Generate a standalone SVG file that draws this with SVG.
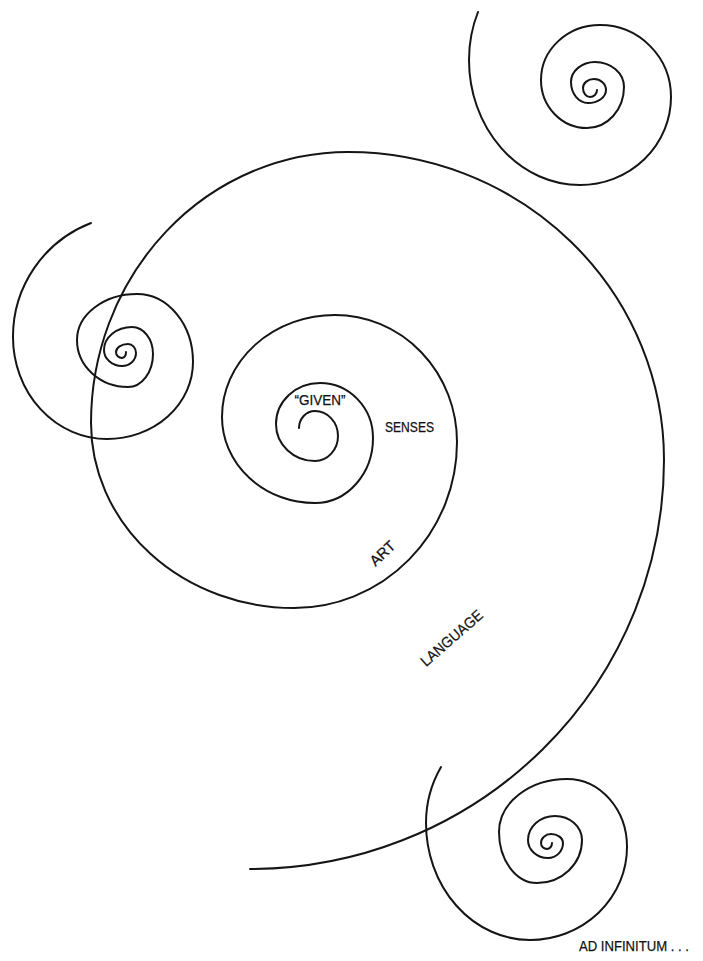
<svg xmlns="http://www.w3.org/2000/svg" width="703" height="961" viewBox="0 0 703 961">
<style>
.sp{fill:none;stroke:#151515;stroke-width:2;stroke-linecap:round;stroke-linejoin:round}
.lb{font-family:"Liberation Sans",Arial,sans-serif;font-size:15px;fill:#111111;stroke:#111111;stroke-width:0.25}
</style>
<rect width="703" height="961" fill="#ffffff"/>
<g id="main-spiral">
<path class="sp" d="M299,428 A16,17 0 0 1 315,411 A23,25 0 0 1 338,436 A23,25 0 0 1 315,461 A39,37 0 0 1 276,424 A44,41 0 0 1 320,383 A53,55 0 0 1 373,438 A58,65 0 0 1 315,503 A93,86 0 0 1 222,417 A113,102 0 0 1 335,315 A122,127 0 0 1 457,442 A163,166 0 0 1 294,608 A203,185 0 0 1 91,423 A257,271 0 0 1 348,152 A316,308 0 0 1 664,460 A414,409 0 0 1 250,869"/>
<text class="lb" x="320" y="405" text-anchor="middle" textLength="51" lengthAdjust="spacingAndGlyphs">“GIVEN”</text>
<text class="lb" x="385" y="432" textLength="49" lengthAdjust="spacingAndGlyphs">SENSES</text>
<text class="lb" x="386" y="557" text-anchor="middle" transform="rotate(-43 386 557)" textLength="29" lengthAdjust="spacingAndGlyphs">ART</text>
<text class="lb" x="455" y="642" text-anchor="middle" transform="rotate(-41 455 642)" textLength="77" lengthAdjust="spacingAndGlyphs">LANGUAGE</text>
</g>
<g id="left-spiral">
<path class="sp" d="M91,223 A122,122 0 0 0 13,337 A94,102 0 0 0 107,439 A86,77 0 0 0 193,362 A56,68 0 0 0 137,294 A60,46 0 0 0 77,340 A51,47 0 0 0 128,387 A25,33 0 0 0 153,354 A21,27 0 0 0 132,327 A28,23 0 0 0 104,350 A18,16 0 0 0 122,366 A14,13 0 0 0 136,353 A8,9 0 0 0 128,344 A12,8 0 0 0 116,352 A6,6 0 0 0 122,358 A5,6 0 0 0 126,352"/>
</g>
<g id="top-right-spiral">
<path class="sp" d="M478,12 A130,130 0 0 0 469,60 A111,125 0 0 0 580,185 A91,88 0 0 0 671,97 A71,72 0 0 0 600,25 A59,55 0 0 0 541,80 A46,48 0 0 0 587,128 A37,41 0 0 0 624,87 A29,25 0 0 0 595,62 A24,20 0 0 0 571,82 A17,21 0 0 0 588,103 A18,13 0 0 0 606,90 A12,11 0 0 0 594,79 A11,9 0 0 0 583,88 A7,9 0 0 0 590,97 A7,7 0 0 0 597,90"/>
</g>
<g id="bottom-right-spiral">
<path class="sp" d="M441,767 A112,112 0 0 0 426,823 A104,117 0 0 0 530,940 A97,93 0 0 0 627,847 A60,68 0 0 0 567,779 A68,53 0 0 0 499,832 A38,51 0 0 0 537,883 A45,43 0 0 0 582,840 A27,24 0 0 0 555,816 A27,24 0 0 0 528,840 A20,18 0 0 0 548,858 A15,15 0 0 0 563,843 A12,9 0 0 0 551,834 A10,9 0 0 0 541,843 A6,6 0 0 0 547,849 A5,6 0 0 0 552,843"/>
</g>
<g id="caption">
<text class="lb" x="579" y="951" textLength="110" lengthAdjust="spacingAndGlyphs">AD INFINITUM . . .</text>
</g>
</svg>
